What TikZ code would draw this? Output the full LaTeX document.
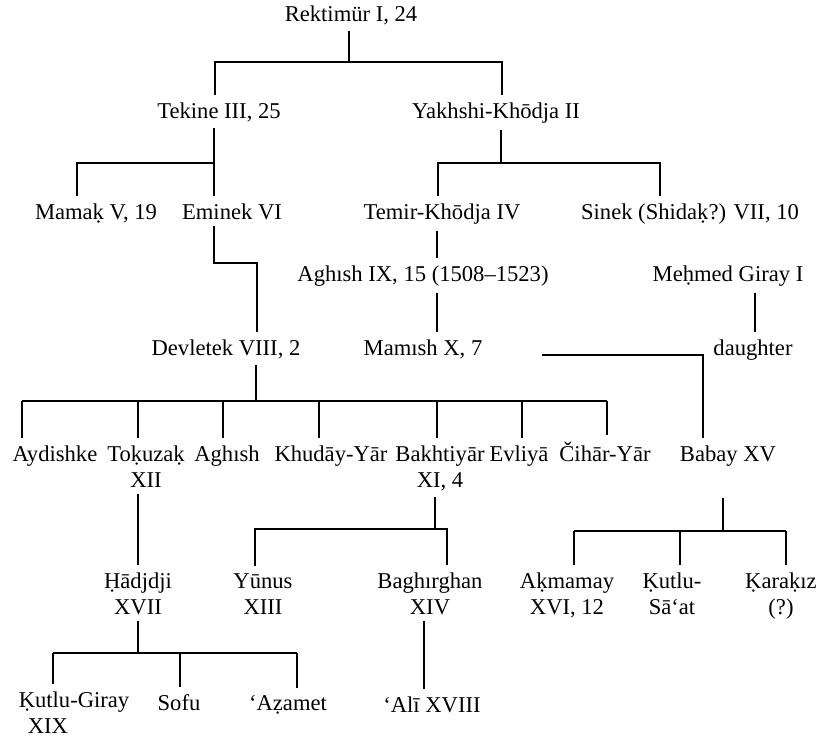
\documentclass[tikz,border=0pt]{standalone}
\usepackage{fontspec}
\setmainfont{Liberation Serif}

\begin{document}
\begin{tikzpicture}[x=1pt,y=-1pt,line width=1.5pt,
  every node/.style={inner sep=0pt,outer sep=7pt,anchor=base,align=center,
    font=\fontsize{22.6}{26}\selectfont}]
\useasboundingbox (0,0) rectangle (817,737);
% Rektimur and his sons
\node (rek) at (351,21) {Rektimür I, 24};
\node (tek) at (219,118) {Tekine III, 25};
\node (yak) at (496,118) {Yakhshi-Khōdja II};
\draw (rek.south -| 349,0) -- (349,62);
\draw (tek.north -| 215,0) |- (349,62) -| (yak.north -| 502,0);

% Tekine
\node (mamak) at (96,219) {Mamaḳ V, 19};
\node (emi) at (232,219) {Eminek VI};
\draw (tek.south -| 214,0) -- (emi.north -| 214,0);
\draw (214,163) -| (mamak.north -| 77,0);

% Yakhshi-Khodja
\node (tem) at (442,219) {Temir-Khōdja IV};
\node (sin) at (690,219) {Sinek (Shidaḳ?) VII, 10};
\draw (yak.south -| 501,0) -- (501,163);
\draw (tem.north -| 438,0) |- (501,163) -| (sin.north -| 660,0);

% Temir-Khodja line
\node (agh) at (423,281) {Aghısh IX, 15 (1508–1523)};
\node (mami) at (423,355) {Mamısh X, 7};
\draw (tem.south -| 437,0) -- (agh.north -| 437,0);
\draw (agh.south -| 437,0) -- (mami.north -| 437,0);

% Eminek
\node (dev) at (226,355) {Devletek VIII, 2};
\draw (emi.south -| 214,0) |- (257,263) -- (dev.north -| 257,0);

% Mehmed Giray
\node (meh) at (728,281) {Meḥmed Giray I};
\node (dau) at (753,355) {daughter};
\draw (meh.south -| 755,0) -- (dau.north -| 755,0);

% Devletek's sons (two-line names sit on their last line)
\node (ayd) at (55,461) {Aydishke};
\node (tok) at (146,487) {Toḳuzaḳ\\XII};
\node (aghi) at (227,461) {Aghısh};
\node (khu) at (331,461) {Khudāy-Yār};
\node (bak) at (440,487) {Bakhtiyār\\XI, 4};
\node (evl) at (519,461) {Evliyā};
\node (cih) at (605,461) {Čihār-Yār};
\draw (dev.south -| 256,0) -- (256,401);
\draw (22,401) -- (607,401);
\foreach \n/\x in {ayd/22,tok/138,aghi/223,khu/319,bak/437,evl/522,cih/607} {
  \draw (\x,401) -- (\n.north -| \x,0);
  }

% Mamish -> Babay
\node (bab) at (728,461) {Babay XV};
\draw ([xshift=53pt]mami.base east) -| (bab.north -| 703,0);

% Tokuzak
\node (had) at (138,614) {Ḥādjdji\\XVII};
\draw (tok.south -| 138,0) -- (had.north -| 138,0);

% Bakhtiyar
\node (yun) at (263,614) {Yūnus\\XIII};
\node (bag) at (430,614) {Baghırghan\\XIV};
\draw (bak.south -| 435,0) -- (435,529);
\draw (yun.north -| 255,0) |- (447,529) -- (bag.north -| 447,0);

% Babay
\node (akm) at (567,614) {Aḳmamay\\XVI, 12};
\node (kut) at (672,614) {Ḳutlu-\\Sā‘at};
\node (kar) at (781,614) {Ḳaraḳız\\(?)};
\draw ([yshift=-25pt]bab.south -| 723,0) -- (723,531);
\draw (574,531) -- (786,531);
\foreach \n/\x in {akm/574,kut/680,kar/786} {
  \draw (\x,531) -- (\n.north -| \x,0);
  }

% Hadjdji
\node[align=left] (kgi) at (74,733) {Ḳutlu-Giray\\\hspace*{9pt}XIX};
\node (sof) at (179,710) {Sofu};
\node (aza) at (288,710) {‘Aẓamet};
\draw (had.south -| 138,0) -- (138,653);
\draw (53,653) -- (297,653);
\foreach \n/\x in {kgi/53,sof/180,aza/297} {
  \draw (\x,653) -- (\n.north -| \x,0);
  }

% Baghirghan
\node (ali) at (432,712) {‘Alī XVIII};
\draw (bag.south -| 424,0) -- (ali.north -| 424,0);
\end{tikzpicture}
\end{document}
